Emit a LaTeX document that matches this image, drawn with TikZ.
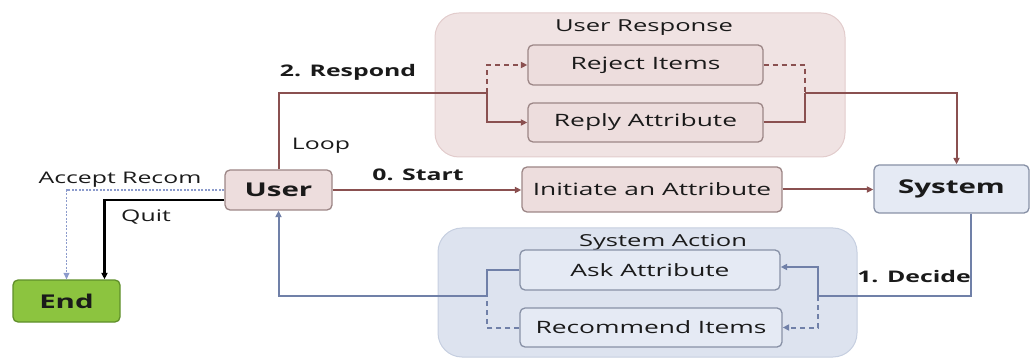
\documentclass[tikz,border=0pt]{standalone}
\usepackage{fontspec}
\setmainfont{Open Sans}[FakeStretch=1.55]
\usetikzlibrary{arrows.meta,calc}

\definecolor{textc}{HTML}{1A1A1A}
\definecolor{pinkgroup}{HTML}{F0E3E3}
\definecolor{pinkgroupline}{HTML}{E2CCCC}
\definecolor{pinkfill}{HTML}{EDDDDD}
\definecolor{pinkline}{HTML}{9C8686}
\definecolor{bluegroup}{HTML}{DDE3EF}
\definecolor{bluegroupline}{HTML}{C6CFE0}
\definecolor{bluefill}{HTML}{E5EAF4}
\definecolor{blueline}{HTML}{8891A6}
\definecolor{greenfill}{HTML}{8CC43F}
\definecolor{greenline}{HTML}{5F8F2A}
\definecolor{brownarrow}{HTML}{8A5050}
\definecolor{bluearrow}{HTML}{7080A8}
\definecolor{acceptline}{HTML}{8C9BCC}

\begin{document}
\begin{tikzpicture}[x=1pt,y=-1pt,
  box/.style={rounded corners=5pt, line width=1.3pt, text=textc, inner sep=0pt,
    font=\fontsize{17}{20}\selectfont},
  pinkbox/.style={box, fill=pinkfill, draw=pinkline},
  bluebox/.style={box, fill=bluefill, draw=blueline},
  mainbox/.style={font=\fontsize{19}{22}\selectfont\bfseries},
  group/.style={rounded corners=24pt, line width=1pt},
  grouptitle/.style={text=textc, inner sep=0pt, font=\fontsize{16.5}{19}\selectfont},
  lbl/.style={text=textc, inner sep=0pt, font=\fontsize{16}{19}\selectfont},
  blbl/.style={text=textc, inner sep=0pt, font=\fontsize{16}{19}\selectfont\bfseries},
  tip/.style={-{Triangle[length=6.5pt,width=6pt]}},
  rflow/.style={draw=brownarrow, line width=2pt},
  bflow/.style={draw=bluearrow, line width=2pt},
  dashflow/.style={dash pattern=on 5pt off 4pt}
]
\useasboundingbox (0,0) rectangle (1032,363);

% groups
\node[group, fill=pinkgroup, draw=pinkgroupline, minimum width=410pt, minimum height=144pt]
  (urgroup) at (640,85) {};
\node[group, fill=bluegroup, draw=bluegroupline, minimum width=419pt, minimum height=129pt]
  (sagroup) at (647.5,292.5) {};
\node[grouptitle] (urtitle) at (644,28) {User Response};
\node[grouptitle] (satitle) at (663,242) {System Action};

% boxes
\node[pinkbox, minimum width=235pt, minimum height=40pt] (reject) at (645.5,65) {Reject Items};
\node[pinkbox, minimum width=235pt, minimum height=39pt] (reply) at (645.5,122.5) {Reply Attribute};
\node[pinkbox, minimum width=260pt, minimum height=45pt] (init) at (652,189.5) {Initiate an Attribute};
\node[pinkbox, mainbox, minimum width=107pt, minimum height=40pt] (user) at (278.5,190) {User};
\node[bluebox, mainbox, minimum width=155pt, minimum height=48pt] (system) at (951.5,189) {System};
\node[bluebox, minimum width=260pt, minimum height=40pt] (ask) at (650,270) {Ask Attribute};
\node[bluebox, minimum width=262pt, minimum height=39pt] (rec) at (651,327.5) {Recommend Items};
\node[box, mainbox, fill=greenfill, draw=greenline, minimum width=107pt, minimum height=42pt]
  (endn) at (66.5,301) {End};

% junction points
\coordinate (jr1) at (487,93);
\coordinate (jr2) at (805,93);
\coordinate (jb1) at (487,296);
\coordinate (jb2) at (818,296);

% user response branch
\draw[rflow] (user.north) |- (jr1);
\draw[rflow, tip] (jr1) |- (reply.west);
\draw[rflow, dashflow, tip] (jr1) |- (reject.west);
\draw[rflow, dashflow] (reject.east) -| (jr2);
\draw[rflow] (reply.east) -| (jr2);
\draw[rflow, tip] (jr2) -| ([xshift=5pt]system.north);

% start
\draw[rflow, tip] (user.east) -- (user.east -| init.west);
\draw[rflow, tip] (init.east) -- (init.east -| system.west);

% system action branch
\draw[bflow] ([xshift=19pt]system.south) |- (jb2);
\draw[bflow, tip] (jb2) |- ([yshift=3pt]ask.east);
\draw[bflow, dashflow, tip] (jb2) |- (rec.east);
\draw[bflow] (ask.west) -| (jb1);
\draw[bflow, dashflow] (rec.west) -| (jb1);
\draw[bflow, tip] (jb1) -| (user.south);

% leaving the loop
\draw[draw=acceptline, line width=1.3pt, dash pattern=on 2pt off 1.5pt, tip] (user.west) -| (endn.north);
\draw[draw=black, line width=2.2pt, tip] ([yshift=-10pt]user.west) -| ([xshift=38pt]endn.north);

% labels
\node[blbl] (lresp) at (348,72) {2. Respond};
\node[lbl] (lloop) at (321,146) {Loop};
\node[blbl] (lstart) at (418,175) {0. Start};
\node[blbl] (ldecide) at (914,277) {1. Decide};
\node[lbl] (laccept) at (120,180) {Accept Recom};
\node[lbl] (lquit) at (146,217) {Quit};
\end{tikzpicture}
\end{document}
